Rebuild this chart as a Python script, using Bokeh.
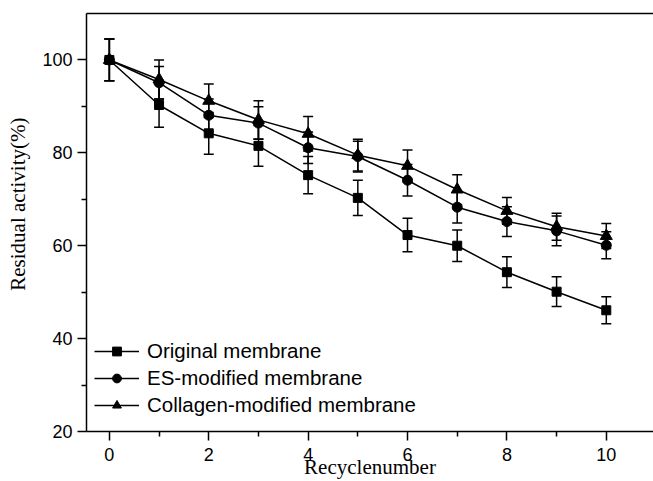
import numpy as np
from bokeh.plotting import figure
from bokeh.models import (ColumnDataSource, Whisker, TeeHead, FixedTicker,
                          LinearAxis, Legend, LegendItem, Range1d)
from bokeh.embed import file_html
from bokeh.resources import INLINE

cycles = [0, 1, 2, 3, 4, 5, 6, 7, 8, 9, 10]
original = [100, 90.3, 84.2, 81.5, 75.2, 70.3, 62.3, 60.0, 54.3, 50.1, 46.1]
original_err = [4.5, 4.8, 4.5, 4.4, 4.0, 3.8, 3.6, 3.4, 3.3, 3.2, 2.9]
es = [100, 95.1, 88.1, 86.4, 81.1, 79.2, 74.1, 68.3, 65.2, 63.2, 60.1]
es_err = [4.5, 3.5, 3.5, 3.5, 3.4, 3.3, 3.4, 3.4, 3.2, 3.2, 2.9]
collagen = [100, 95.8, 91.2, 87.1, 84.1, 79.5, 77.2, 72.1, 67.5, 64.1, 62.1]
collagen_err = [4.5, 4.2, 3.6, 4.1, 3.7, 3.4, 3.4, 3.2, 2.9, 2.9, 2.7]

series_names = ["Original membrane", "ES-modified membrane", "Collagen-modified membrane"]
x_major = [0, 2, 4, 6, 8, 10]
x_minor = [1, 3, 5, 7, 9]
y_major = [20, 40, 60, 80, 100]
y_minor = [30, 50, 70, 90]
x_title = "Recyclenumber"
y_title = "Residual activity(%)"

SANS = "Liberation Sans"
SERIF = "Liberation Serif"

X0, X1 = -0.46, 10.95
Y0, Y1 = 20, 110

p = figure(width=653, height=481, output_backend="svg", toolbar_location=None,
           x_range=Range1d(X0, X1), y_range=Range1d(Y0, Y1),
           min_border_left=86, min_border_right=0, min_border_top=13,
           min_border_bottom=50)
p.background_fill_color = "white"
p.border_fill_color = "white"
p.outline_line_color = None
p.xgrid.visible = False
p.ygrid.visible = False

for ax in (p.xaxis[0], p.yaxis[0]):
    ax.axis_line_color = "black"
    ax.axis_line_width = 1.5
    ax.major_tick_line_color = "black"
    ax.major_tick_line_width = 1.5
    ax.minor_tick_line_color = "black"
    ax.minor_tick_line_width = 1.5
    ax.major_tick_in = 0
    ax.major_tick_out = 9
    ax.minor_tick_in = 0
    ax.minor_tick_out = 5
    ax.major_label_text_font = SANS
    ax.major_label_text_font_size = "18px"
    ax.major_label_text_color = "black"
    ax.axis_label_text_font = SERIF
    ax.axis_label_text_font_style = "normal"
    ax.axis_label_text_font_size = "21px"
    ax.axis_label_text_color = "black"

p.xaxis[0].ticker = FixedTicker(ticks=x_major, minor_ticks=x_minor)
p.yaxis[0].ticker = FixedTicker(ticks=y_major, minor_ticks=y_minor)
p.xaxis[0].major_label_standoff = 7
p.yaxis[0].major_label_standoff = 5

p.xaxis[0].axis_label = x_title
p.xaxis[0].axis_label_standoff = -9
# leading no-break spaces lift the rotated title a little above the frame centre,
# as in the original figure
p.yaxis[0].axis_label = "\u00a0" * 7 + y_title
p.yaxis[0].axis_label_standoff = 9

top_axis = LinearAxis(ticker=FixedTicker(ticks=[]), major_label_text_font_size="0px",
                      major_tick_in=0, major_tick_out=0, minor_tick_in=0, minor_tick_out=0,
                      major_label_standoff=0, axis_line_color="black", axis_line_width=1.5)
p.add_layout(top_axis, "above")

data = [(original, original_err, "square", 9),
        (es, es_err, "circle", 10),
        (collagen, collagen_err, "triangle", 12)]

items = []
for (vals, errs, marker, size), name in zip(data, series_names):
    src = ColumnDataSource(dict(x=cycles, y=vals,
                                lo=[v - e for v, e in zip(vals, errs)],
                                hi=[v + e for v, e in zip(vals, errs)]))
    ln = p.line("x", "y", source=src, line_color="black", line_width=1.5)
    w = Whisker(base="x", upper="hi", lower="lo", source=src,
                line_color="black", line_width=1.5,
                upper_head=TeeHead(size=10, line_color="black", line_width=1.5),
                lower_head=TeeHead(size=10, line_color="black", line_width=1.5))
    p.add_layout(w)
    sc = p.scatter("x", "y", source=src, marker=marker, size=size,
                   fill_color="black", line_color="black")
    items.append(LegendItem(label=name, renderers=[ln, sc]))

legend = Legend(items=items, location=(8, 14), padding=0, margin=0, spacing=3,
                glyph_width=45, glyph_height=22, label_height=22, label_standoff=8,
                label_text_font=SANS, label_text_font_size="20.5px",
                label_text_color="black", border_line_color=None,
                background_fill_alpha=0)
p.add_layout(legend)

open("out.html", "w").write(file_html(p, INLINE))
